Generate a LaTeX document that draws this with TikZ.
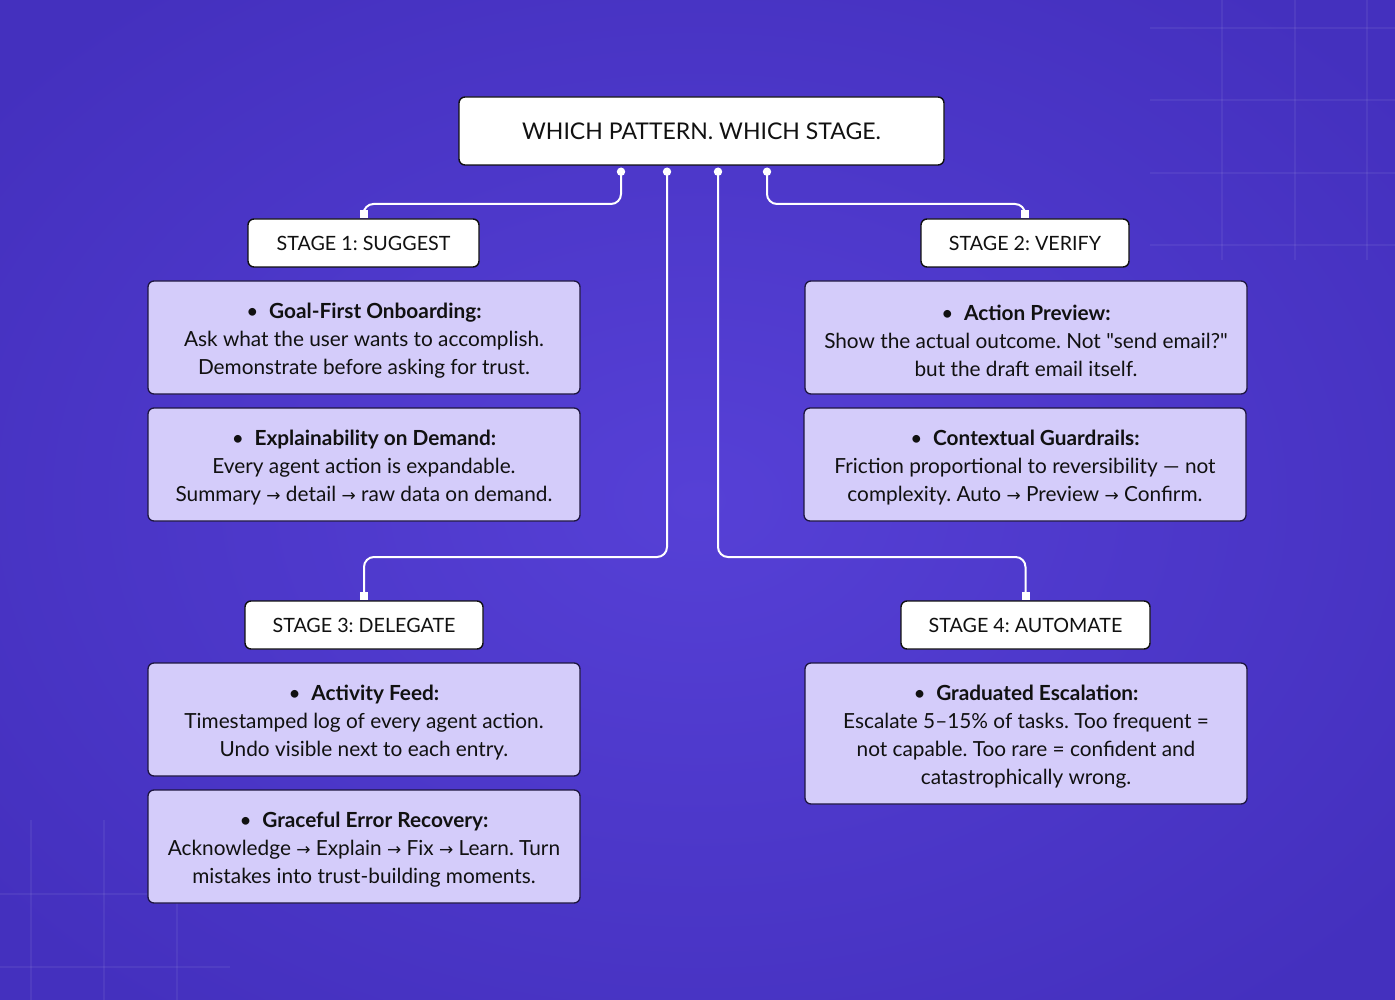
\documentclass[tikz,border=0pt]{standalone}
\usepackage{fontspec}
\setmainfont{Lato}
\newfontfamily\symfont{DejaVu Sans}
\newfontfamily\qfont{Lato}[Ligatures=TeXOff]
\newcommand\myarr{{\symfont\fontsize{17}{28}\selectfont →}}
\newcommand\sq{{\qfont"}}
\newcommand\tstrut{\rule{0pt}{22pt}}
\usetikzlibrary{calc}
\definecolor{bgin}{HTML}{5640D6}
\definecolor{bgout}{HTML}{4430BE}
\definecolor{card}{HTML}{D4CCFA}
\definecolor{cardline}{HTML}{1E1640}
\definecolor{ink}{HTML}{111111}
\tikzset{
  titlebox/.style={draw=ink, line width=1.4pt, fill=white, rounded corners=6pt, inner sep=0pt,
    minimum width=485pt, minimum height=68pt, text=ink, font=\frenchspacing\fontsize{23}{28}\selectfont},
  stagebox/.style={draw=ink, line width=1.4pt, fill=white, rounded corners=6pt, inner sep=0pt,
    minimum height=48pt, text=ink, font=\frenchspacing\fontsize{19.7}{24}\selectfont},
  cardbox/.style={draw=cardline, line width=1.3pt, fill=card, rounded corners=6pt, inner sep=0pt,
    minimum height=113pt, text=ink, align=center, font=\frenchspacing\fontsize{20.8}{28}\selectfont},
  conn/.style={draw=white, line width=2pt, rounded corners=10pt},
  dotmark/.style={fill=white},
  gridline/.style={draw=white, opacity=0.06, line width=1.2pt}
}
\begin{document}
\begin{tikzpicture}[x=1pt,y=-1pt]
\useasboundingbox (0,0) rectangle (1395,1000);
\shade[inner color=bgin, outer color=bgout] (-200,-150) rectangle (1595,1150);
% faint grid top-right
\foreach \gx in {1222,1295,1367} \draw[gridline] (\gx,0) -- (\gx,260);
\foreach \gy in {28,100,173,245} \draw[gridline] (1150,\gy) -- (1395,\gy);
% faint grid bottom-left
\foreach \gx in {31,104,177} \draw[gridline] (\gx,820) -- (\gx,1000);
\foreach \gy in {894,967} \draw[gridline] (0,\gy) -- (230,\gy);

% title
\node[titlebox] (top) at (701.5,131) {WHICH PATTERN. WHICH STAGE.};

% stages
\node[stagebox, minimum width=231pt] (s1) at (363.5,243) {STAGE 1: SUGGEST};
\node[stagebox, minimum width=208pt] (s2) at (1025,243) {STAGE 2: VERIFY};
\node[stagebox, minimum width=238pt] (s3) at (364,625) {STAGE 3: DELEGATE};
\node[stagebox, minimum width=249pt] (s4) at (1025.5,625) {STAGE 4: AUTOMATE};

% cards
\node[cardbox, minimum width=432pt] (l1) at (364,337.5) {\tstrut•\ \ \textbf{Goal-First Onboarding:}\\Ask what the user wants to accomplish.\\Demonstrate before asking for trust.};
\node[cardbox, minimum width=432pt] (l2) at (364,464.5) {\tstrut•\ \ \textbf{Explainability on Demand:}\\Every agent action is expandable.\\Summary \myarr{} detail \myarr{} raw data on demand.};
\node[cardbox, minimum width=442pt] (r1) at (1026,337.5) {\tstrut•\ \ \textbf{Action Preview:}\\Show the actual outcome. Not \sq send email?\sq\\but the draft email itself.};
\node[cardbox, minimum width=442pt] (r2) at (1025,464.5) {\tstrut•\ \ \textbf{Contextual Guardrails:}\\Friction proportional to reversibility — not\\complexity. Auto \myarr{} Preview \myarr{} Confirm.};
\node[cardbox, minimum width=432pt] (l3) at (364,719.5) {\tstrut•\ \ \textbf{Activity Feed:}\\Timestamped log of every agent action.\\Undo visible next to each entry.};
\node[cardbox, minimum width=432pt] (l4) at (364,846.5) {\tstrut•\ \ \textbf{Graceful Error Recovery:}\\Acknowledge \myarr{} Explain \myarr{} Fix \myarr{} Learn. Turn\\mistakes into trust-building moments.};
\node[cardbox, minimum width=442pt, minimum height=141pt] (r4) at (1026,733.5) {\tstrut•\ \ \textbf{Graduated Escalation:}\\Escalate 5–15\% of tasks. Too frequent =\\not capable. Too rare = confident and\\catastrophically wrong.};

% connector start points
\coordinate (d1) at ($(top.south)+(-80.5,6)$);
\coordinate (d2) at ($(top.south)+(-34.5,6)$);
\coordinate (d3) at ($(top.south)+(16.5,6)$);
\coordinate (d4) at ($(top.south)+(65.5,6)$);
\coordinate (e1) at ($(s1.north)+(0,-5)$);
\coordinate (e2) at ($(s2.north)+(0,-5)$);
\coordinate (e3) at ($(s3.north)+(0,-5)$);
\coordinate (e4) at ($(s4.north)+(0,-5)$);

\draw[conn] (d1) -- (d1 |- 0,204) -- (e1 |- 0,204) -- (e1);
\draw[conn] (d4) -- (d4 |- 0,204) -- (e2 |- 0,204) -- (e2);
\draw[conn] (d2) -- (d2 |- 0,557) -- (e3 |- 0,557) -- (e3);
\draw[conn] (d3) -- (d3 |- 0,557) -- (e4 |- 0,557) -- (e4);

\foreach \d in {d1,d2,d3,d4} \fill[dotmark] (\d) circle (4.2pt);
\foreach \s in {s1,s2,s3,s4} \fill[dotmark] ($(\s.north)+(-4,-8)$) rectangle ($(\s.north)+(4,0)$);
\end{tikzpicture}
\end{document}
